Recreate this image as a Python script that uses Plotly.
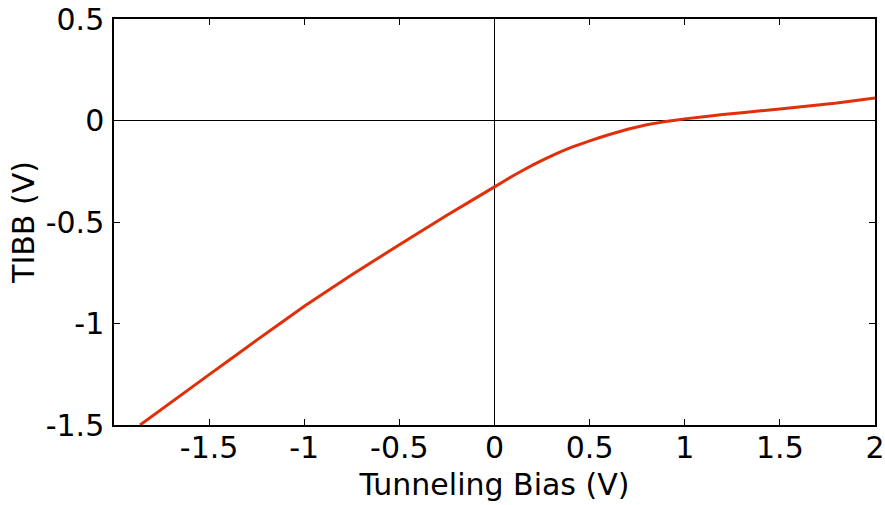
import plotly.graph_objects as go

bias = [-1.863, -1.5, -1.25, -1.0, -0.75, -0.5, -0.25, 0.0, 0.1, 0.2, 0.3, 0.4, 0.5, 0.6, 0.7, 0.8, 0.9, 1.0, 1.2, 1.4, 1.6, 1.8, 2.0]
tibb = [-1.5, -1.252, -1.082, -0.915, -0.760, -0.612, -0.467, -0.327, -0.271, -0.220, -0.174, -0.134, -0.100, -0.070, -0.043, -0.021, -0.005, 0.008, 0.029, 0.048, 0.066, 0.086, 0.111]

x_ticks = [-1.5, -1, -0.5, 0, 0.5, 1, 1.5, 2]
x_labels = ["-1.5", "-1", "-0.5", "0", "0.5", "1", "1.5", "2"]
y_ticks = [-1.5, -1, -0.5, 0, 0.5]
y_labels = ["-1.5", "-1", "-0.5", "0", "0.5"]

fig = go.Figure()
fig.add_trace(go.Scatter(x=bias, y=tibb, mode="lines",
                         line=dict(color="#e0300a", width=3, shape="spline", smoothing=0.3),
                         showlegend=False))

axis_common = dict(showline=True, linecolor="black", linewidth=1.5, mirror="ticks",
                   ticks="inside", ticklen=6, tickcolor="black", tickwidth=1,
                   showgrid=False, zeroline=True, zerolinecolor="black", zerolinewidth=1,
                   automargin=False, ticklabeloverflow="allow",
                   tickfont=dict(size=30, color="black"))

fig.update_xaxes(range=[-2, 2], tickvals=x_ticks, ticktext=x_labels, ticklabelstandoff=-5,
                 title=dict(text="Tunneling Bias (V)", font=dict(size=30, color="black"), standoff=10),
                 **axis_common)
fig.update_yaxes(range=[-1.5, 0.5], tickvals=y_ticks, ticktext=y_labels, ticklabelstandoff=2,
                 title=dict(text="TIBB (V)", font=dict(size=30, color="black"), standoff=2),
                 **axis_common)

fig.update_layout(width=885, height=505, margin=dict(l=114, r=10, t=19, b=80),
                  paper_bgcolor="white", plot_bgcolor="white",
                  font=dict(family="DejaVu Sans", color="black"))

fig.write_html("out.html", config={"displayModeBar": False},
               post_script="document.body.style.margin='0';document.body.style.overflow='hidden';")
